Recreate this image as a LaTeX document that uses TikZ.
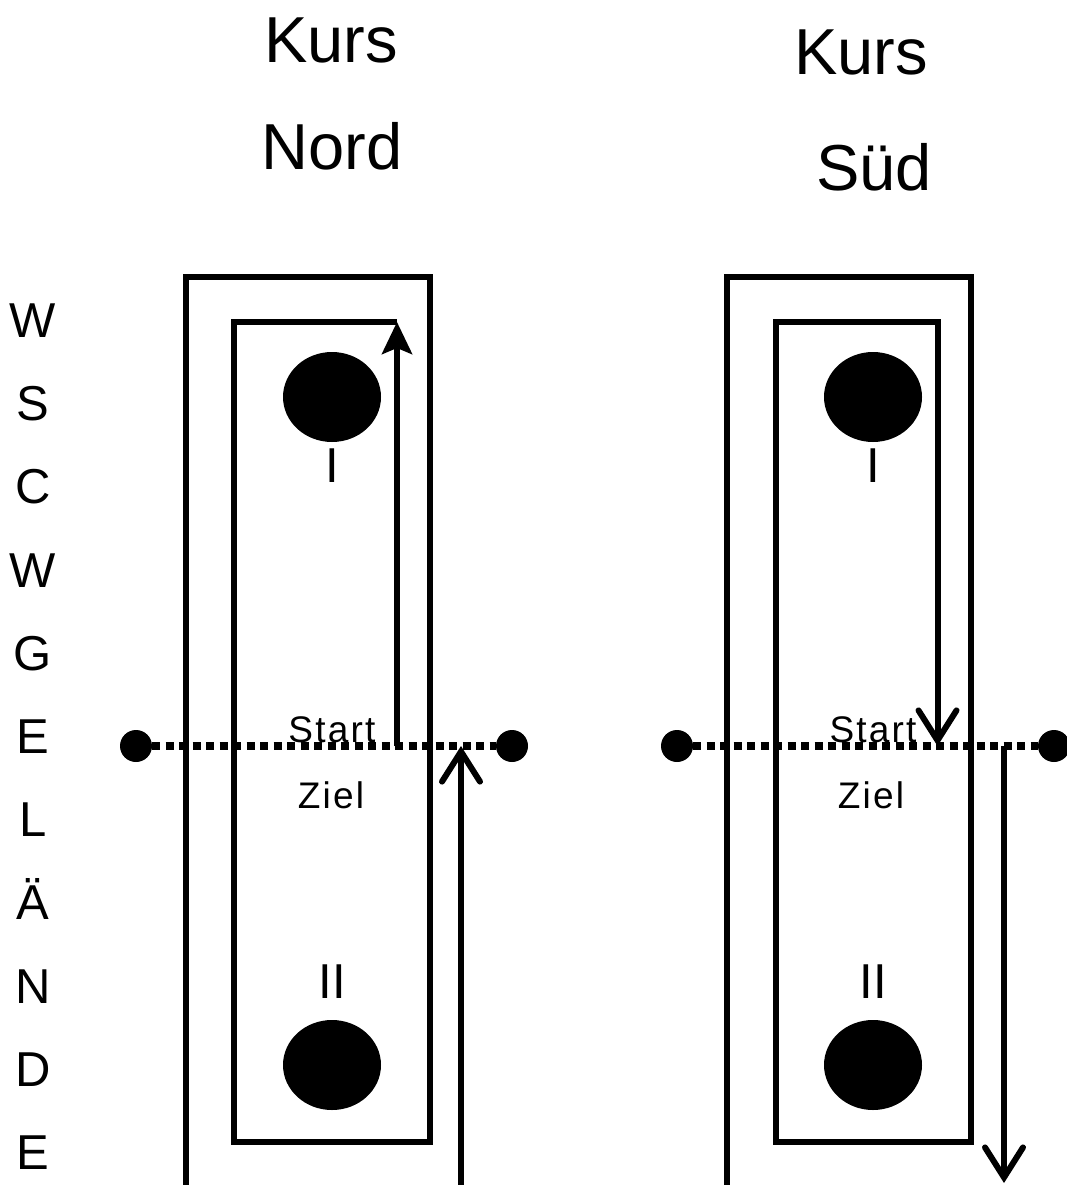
\documentclass[tikz,border=0pt]{standalone}
\usepackage{fontspec}
\setmainfont{Liberation Sans}
\usetikzlibrary{arrows.meta,shapes.geometric}
\begin{document}
\begin{tikzpicture}[x=1pt,y=-1pt,
 lbl/.style={inner sep=0pt, anchor=base, font=\fontsize{49}{55}\selectfont},
 title/.style={inner sep=0pt, anchor=base, font=\fontsize{65}{72}\selectfont},
 small/.style={inner sep=0pt, anchor=base, font=\fontsize{37}{42}\selectfont\addfontfeature{LetterSpace=6}},
 course/.style={line width=6pt},
 dotline/.style={line width=8pt, dash pattern=on 8pt off 5.5pt},
 endpt/.style={circle, fill, inner sep=0pt, minimum size=32pt},
 buoy/.style={ellipse, fill, inner sep=0pt, minimum width=98pt, minimum height=90pt},
 openarrow/.style={-{Straight Barb[length=30pt,width=38pt,line cap=round]}},
 filledarrow/.style={-{Stealth[length=32pt,width=30pt,inset=6pt,fill=black]}}
]
\useasboundingbox[fill=white] (0,0) rectangle (1066,1185);

% side lettering
\foreach \ch [count=\i from 0] in {W,S,C,W,G,E,L,Ä,N,D,E}
  \node[lbl] (side\i) at (33,{337.5+83.2*\i}) {\ch};

% titles
\node[title] (k1) at (331,63) {Kurs};
\node[title] (n1) at (332,170) {Nord};
\node[title] (k2) at (861,75) {Kurs};
\node[title] (n2) at (874,190) {Süd};

% ===== left course (Nord) =====
\coordinate (a0) at (186,1185);
\coordinate (a1) at (186,277);
\coordinate (a2) at (430,277);
\coordinate (a3) at (430,1142);
\coordinate (a4) at (234,1142);
\coordinate (a5) at (234,322);
\coordinate (a6) at (397,322);
\coordinate (a7) at (397,746);
\coordinate (b0) at (461,1185);
\coordinate (b1) at (461,746);

\node[endpt] (L1) at (136,746) {};
\node[endpt] (L2) at (512,746) {};
\draw[dotline] (L1) -- (L2);

\draw[course] (a0) -- (a1) -- (a2) -- (a3) -- (a4) -- (a5) -- (a6);
\draw[course, filledarrow] (a7) -- (a6);
\draw[course, openarrow] (b0) -- (b1);

\node[buoy] (m1) at (332,397) {};
\node[buoy] (m2) at (332,1065) {};
\node[lbl] (r1) at (332,482) {I};
\node[lbl] (r2) at (332,998) {II};
\node[small] (st1) at (332,742) {Start};
\node[small] (zi1) at (331,808) {Ziel};

% ===== right course (Süd) =====
\coordinate (c0) at (726.5,1185);
\coordinate (c1) at (726.5,277);
\coordinate (c2) at (971,277);
\coordinate (c3) at (971,1141.5);
\coordinate (c4) at (775.5,1141.5);
\coordinate (c5) at (775.5,322);
\coordinate (c6) at (937.5,322);
\coordinate (c7) at (937.5,746);
\coordinate (d0) at (1004,746);
\coordinate (d1) at (1004,1183);

\node[endpt] (R1) at (677,746) {};
\node[endpt] (R2) at (1054,746) {};
\draw[dotline] (R1) -- (R2);

\draw[course, openarrow] (c0) -- (c1) -- (c2) -- (c3) -- (c4) -- (c5) -- (c6) -- (c7);
\draw[course, openarrow] (d0) -- (d1);

\node[buoy] (m3) at (873,397) {};
\node[buoy] (m4) at (873,1065) {};
\node[lbl] (r3) at (873,482) {I};
\node[lbl] (r4) at (873,998) {II};
\node[small] (st2) at (873,742) {Start};
\node[small] (zi2) at (871,808) {Ziel};
\end{tikzpicture}
\end{document}
